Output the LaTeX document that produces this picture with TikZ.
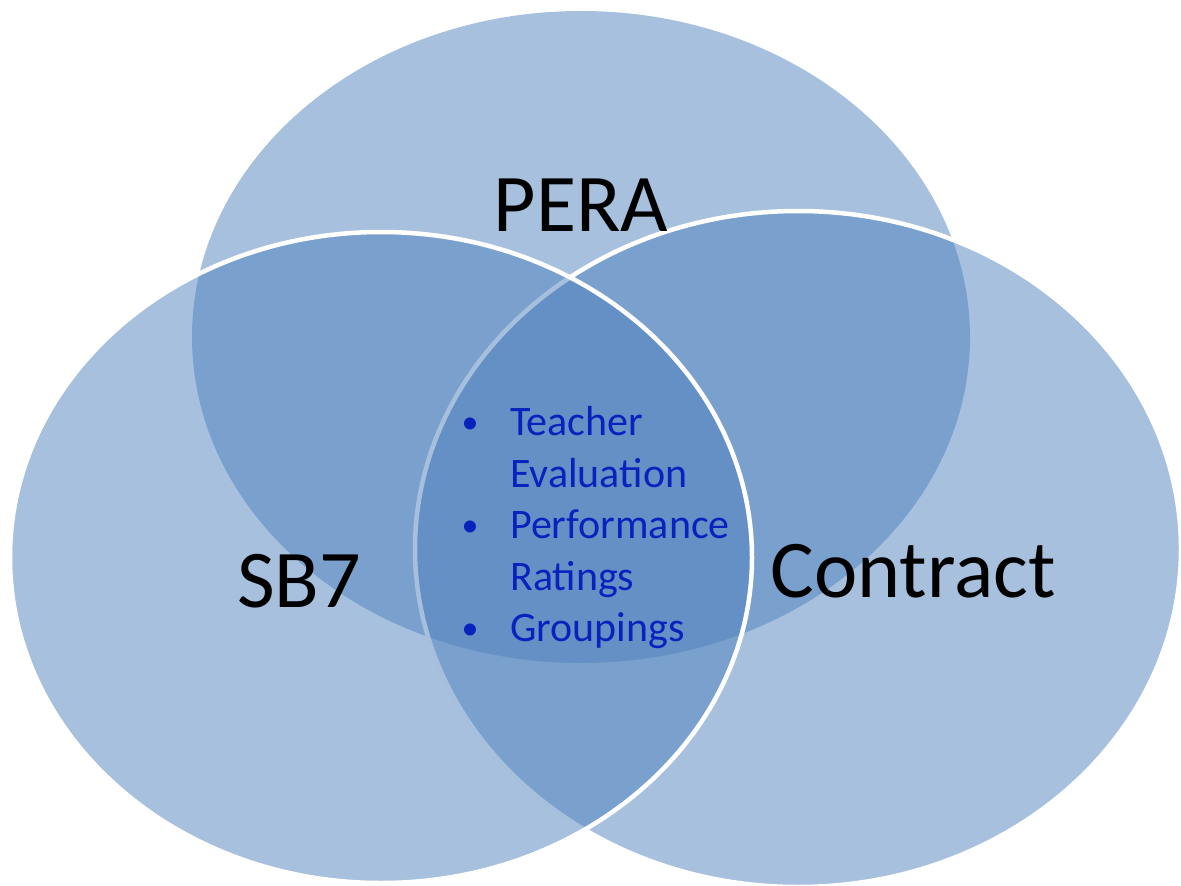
\documentclass[tikz,border=0pt]{standalone}
\usepackage{fontspec}
\setmainfont{Carlito}
\definecolor{setblue}{RGB}{79,129,189}
\definecolor{itemblue}{RGB}{8,34,190}
\begin{document}
\begin{tikzpicture}[x=1pt,y=-1pt,
  setfill/.style={fill=setblue,fill opacity=0.5},
  setedge/.style={setfill,draw=white,line width=4.5pt},
  setlabel/.style={font=\fontsize{82}{90}\selectfont,text=black,inner sep=0pt,anchor=base},
  itemtext/.style={font=\fontsize{42}{50}\selectfont,text=itemblue,inner sep=0pt,anchor=base west},
  itembullet/.style={font=\fontsize{34}{40}\selectfont,text=itemblue,inner sep=0pt,anchor=base}]
  \useasboundingbox (0,0) rectangle (1181,886);
  % the three sets
  \fill[setfill] (581,337) ellipse [x radius=389,y radius=326];
  \draw[setedge] (798,549) ellipse [x radius=383,y radius=338];
  \draw[setedge] (381,557.5) ellipse [x radius=371,y radius=325.5];
  % set names
  \node[setlabel] (pera) at (581,231) {PERA};
  \node[setlabel] (sb7) at (299,607) {SB7};
  \node[setlabel] (contract) at (913,597) {Contract};
  % shared items in the middle
  \node[itembullet] (b1) at (470,433) {•};
  \node[itemtext] (t1) at (510,435.5) {Teacher};
  \node[itemtext] (t2) at (510,487) {Evaluation};
  \node[itembullet] (b2) at (470,536) {•};
  \node[itemtext] (t3) at (510,538.5) {Performance};
  \node[itemtext] (t4) at (510,590) {Ratings};
  \node[itembullet] (b3) at (470,639) {•};
  \node[itemtext] (t5) at (510,641.5) {Groupings};
\end{tikzpicture}
\end{document}
